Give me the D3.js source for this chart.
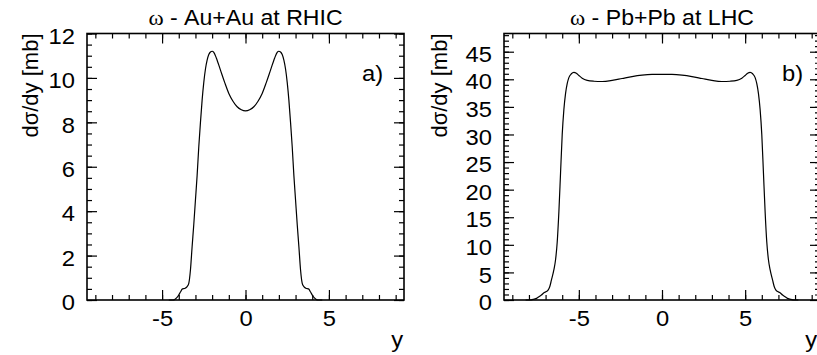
<!DOCTYPE html>
<html>
<head>
<meta charset="utf-8">
<script src="https://cdn.jsdelivr.net/npm/d3@7"></script>
<style>
  body { margin: 0; background: #fff; }
  svg { display: block; }
  text { font-family: "Liberation Sans", Arial, sans-serif; font-size: 22px; fill: #000; }
</style>
</head>
<body>
<div id="chart"></div>
<script>
// rapidity grid and cross sections
var rhicRapidity = [-4.6, -4.35, -4.2, -4.05, -3.9, -3.78, -3.62, -3.5, -3.4, -3.3, -3.2, -3.1, -3.0, -2.9, -2.8, -2.7, -2.6, -2.5, -2.4, -2.3, -2.2, -2.1, -2.0, -1.9, -1.75, -1.5, -1.25, -1.0, -0.75, -0.5, -0.25,
  0, 0.25, 0.5, 0.75, 1.0, 1.25, 1.5, 1.75, 1.9, 2.0, 2.1, 2.2, 2.3, 2.4, 2.5, 2.6, 2.7, 2.8, 2.9, 3.0, 3.1, 3.2, 3.3, 3.4, 3.5, 3.62, 3.78, 3.9, 4.05, 4.2, 4.35, 4.6];
var rhicSigma = [0, 0, 0.05, 0.16, 0.36, 0.5, 0.53, 0.6, 0.75, 1.35, 2.4, 3.4, 4.5, 5.6, 6.9, 8.0, 9.0, 9.8, 10.4, 10.8, 11.05, 11.17, 11.2, 11.15, 10.9, 10.35, 9.8, 9.3, 8.95, 8.7, 8.57,
  8.52, 8.57, 8.7, 8.95, 9.3, 9.8, 10.35, 10.9, 11.15, 11.2, 11.17, 11.05, 10.8, 10.4, 9.8, 9.0, 8.0, 6.9, 5.6, 4.5, 3.4, 2.4, 1.35, 0.75, 0.6, 0.53, 0.5, 0.36, 0.16, 0.05, 0, 0];

var lhcRapidity = [-8.2, -7.95, -7.75, -7.55, -7.4, -7.25, -7.1, -6.95, -6.85, -6.75, -6.65, -6.5, -6.4, -6.3, -6.2, -6.1, -6.0, -5.9, -5.8, -5.7, -5.6, -5.45, -5.3, -5.15, -5.0, -4.8, -4.5, -4.1, -3.6, -3.0, -2.4, -1.8, -1.2, -0.6,
  0, 0.6, 1.2, 1.8, 2.4, 3.0, 3.6, 4.1, 4.5, 4.8, 5.0, 5.15, 5.3, 5.45, 5.6, 5.7, 5.8, 5.9, 6.0, 6.1, 6.2, 6.3, 6.4, 6.5, 6.65, 6.75, 6.85, 6.95, 7.1, 7.25, 7.4, 7.55, 7.75, 7.95, 8.2];
var lhcSigma = [0, 0, 0.1, 0.3, 0.6, 0.9, 1.3, 1.55, 1.8, 2.4, 3.6, 5.5, 7.3, 10.5, 16, 23, 30, 34.5, 37.4, 39.2, 40.3, 41.0, 41.25, 41.1, 40.7, 40.2, 39.8, 39.65, 39.6, 39.8, 40.15, 40.5, 40.75, 40.88,
  40.9, 40.88, 40.75, 40.5, 40.15, 39.8, 39.6, 39.65, 39.8, 40.2, 40.7, 41.1, 41.25, 41.0, 40.3, 39.2, 37.4, 34.5, 30, 23, 16, 10.5, 7.3, 5.5, 3.6, 2.4, 1.8, 1.55, 1.3, 0.9, 0.6, 0.3, 0.1, 0, 0];

// tick labels
var xTicks = [-5, 0, 5];
var xMinorTicks = [-9, -8, -7, -6, -5, -4, -3, -2, -1, 0, 1, 2, 3, 4, 5, 6, 7, 8, 9];
var rhicTicks = [0, 2, 4, 6, 8, 10, 12];
var lhcTicks = [0, 5, 10, 15, 20, 25, 30, 35, 40, 45];

var width = 817, height = 355;
var plotTop = 33.5, plotBottom = 300;
var sx = 1.08;        // the original figure is stretched sideways a little
var titleSx = 1.05;

var panels = [
  { system: " - Au+Au at RHIC", tag: "a)", xs: rhicRapidity, vs: rhicSigma,
    left: 87, right: 404, yMax: 12, yTicks: rhicTicks, yMinorStep: 0.5, labelOff: 49, tagX: 362, yLabX: 403 },
  { system: " - Pb+Pb at LHC", tag: "b)", xs: lhcRapidity, vs: lhcSigma,
    left: 504, right: 820, yMax: 48.3, yTicks: lhcTicks, yMinorStep: 1, labelOff: 57, tagX: 782, yLabX: 817 }
];

var svg = d3.select("#chart").append("svg")
  .attr("width", width)
  .attr("height", height);

panels.forEach(function (p) {
  var x = d3.scaleLinear().domain([-9.5, 9.5]).range([p.left, p.right]);
  var y = d3.scaleLinear().domain([0, p.yMax]).range([plotBottom, plotTop]);
  var yMinor = d3.range(0, p.yMax + 1e-9, p.yMinorStep);

  var g = svg.append("g");

  // minor ticks, all four sides, pointing inward
  g.append("g").attr("transform", "translate(0," + plotBottom + ")")
    .call(d3.axisBottom(x).tickValues(xMinorTicks).tickSize(-5).tickFormat(""));
  g.append("g").attr("transform", "translate(0," + plotTop + ")")
    .call(d3.axisTop(x).tickValues(xMinorTicks).tickSize(-5).tickFormat(""));
  g.append("g").attr("transform", "translate(" + p.left + ",0)")
    .call(d3.axisLeft(y).tickValues(yMinor).tickSize(-5).tickFormat(""));
  g.append("g").attr("transform", "translate(" + p.right + ",0)")
    .call(d3.axisRight(y).tickValues(yMinor).tickSize(-5).tickFormat(""));

  // major ticks with labels
  g.append("g").attr("class", "xaxis").attr("transform", "translate(0," + plotBottom + ")")
    .call(d3.axisBottom(x).tickValues(xTicks).tickSize(-10).tickPadding(10).tickFormat(d3.format("d")));
  g.append("g").attr("transform", "translate(0," + plotTop + ")")
    .call(d3.axisTop(x).tickValues(xTicks).tickSize(-10).tickFormat(""));
  g.append("g").attr("class", "yaxis").attr("transform", "translate(" + p.left + ",0)")
    .call(d3.axisLeft(y).tickValues(p.yTicks).tickSize(-10).tickPadding(12).tickFormat(d3.format("d")));
  g.append("g").attr("transform", "translate(" + p.right + ",0)")
    .call(d3.axisRight(y).tickValues(p.yTicks).tickSize(-10).tickFormat(""));

  g.selectAll(".domain").remove();
  g.selectAll(".tick line").attr("stroke", "#000").attr("stroke-width", 1.2);
  g.selectAll(".tick text")
    .style("font-family", "Liberation Sans, Arial, sans-serif")
    .style("font-size", "22px")
    .attr("fill", "#000")
    .attr("transform", "scale(" + sx + ",1)");
  g.selectAll(".xaxis .tick text").text(function (d) { return d < 0 ? "-" + Math.abs(d) : d; });
  g.selectAll(".yaxis .tick text").attr("x", -12 / sx).attr("dy", "0.44em");

  // frame
  g.append("rect")
    .attr("x", p.left).attr("y", plotTop)
    .attr("width", p.right - p.left).attr("height", plotBottom - plotTop)
    .attr("fill", "none").attr("stroke", "#000").attr("stroke-width", 1.6);

  // curve
  var pts = p.xs.map(function (v, i) { return [v, p.vs[i]]; });
  g.append("path")
    .datum(pts)
    .attr("fill", "none")
    .attr("stroke", "#000")
    .attr("stroke-width", 1.2)
    .attr("d", d3.line()
      .x(function (d) { return x(d[0]); })
      .y(function (d) { return y(d[1]); })
      .curve(d3.curveMonotoneX));

  // title
  var t = g.append("text")
    .attr("transform", "translate(" + x(0) + ",25) scale(" + titleSx + ",1)")
    .attr("text-anchor", "middle");
  t.append("tspan").style("font-family", "Liberation Serif, serif").text("ω");
  t.append("tspan").text(p.system);

  // panel tag
  g.append("text")
    .attr("transform", "translate(" + p.tagX + ",81) scale(" + sx + ",1)")
    .text(p.tag);

  // axis titles
  g.append("text")
    .attr("transform", "translate(" + (p.left - p.labelOff) + "," + plotTop + ") rotate(-90)")
    .attr("text-anchor", "end")
    .text("dσ/dy [mb]");
  g.append("text")
    .attr("transform", "translate(" + p.yLabX + ",347) scale(" + sx + ",1)")
    .attr("text-anchor", "end")
    .text("y");
});
</script>
</body>
</html>
